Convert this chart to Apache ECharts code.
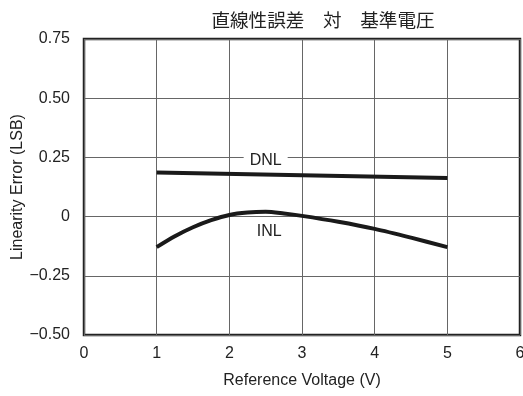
<!DOCTYPE html>
<html><head><meta charset="utf-8">
<script src="https://cdn.jsdelivr.net/npm/echarts@6/dist/echarts.min.js"></script>
<style>html,body{margin:0;padding:0;background:#fff}#c{width:523px;height:396px}</style>
</head><body><div id="c"></div>
<script>
const titleText = '直線性誤差　対　基準電圧';
const xName = 'Reference Voltage (V)';
const yName = 'Linearity Error (LSB)';
const dnlX = [1, 5];
const dnlY = [0.186, 0.163];
const inlX = [1, 1.25, 1.5, 1.75, 2, 2.25, 2.5, 2.75, 3, 3.5, 4, 4.5, 5];
const inlY = [-0.129, -0.083, -0.045, -0.015, 0.007, 0.017, 0.02, 0.013, 0.003, -0.022, -0.052, -0.089, -0.129];
const seriesLabels = ['DNL', 'INL'];

const font = 'Liberation Sans, Arial, sans-serif';
const chart = echarts.init(document.getElementById('c'));
const fmtY = v => {
  if (v === 0) return '0';
  const s = Math.abs(v).toFixed(2);
  return v < 0 ? '\u2212' + s : s;
};
const lbl = { show: true, position: 'inside', fontSize: 16, color: '#222', fontFamily: font };
chart.setOption({
  animation: false,
  title: { text: titleText, left: 318, textAlign: 'center', top: 6,
    textStyle: { fontSize: 18.6, fontWeight: 'normal', color: '#222', fontFamily: 'Noto Sans CJK JP' } },
  grid: { left: 84, right: 3, top: 39, bottom: 61, show: true, borderColor: '#222', borderWidth: 2.5,
    containLabel: false, outerBoundsMode: 'none' },
  xAxis: { type: 'value', min: 0, max: 6, interval: 1, name: xName, nameLocation: 'middle', nameGap: 38,
    nameTextStyle: { fontSize: 16, color: '#222', fontFamily: font },
    axisLine: { show: false }, axisTick: { show: false },
    axisLabel: { fontSize: 16, color: '#222', fontFamily: font, margin: 11 },
    splitLine: { show: true, lineStyle: { color: '#666', width: 1 } } },
  yAxis: { type: 'value', min: -0.5, max: 0.75, interval: 0.25, name: yName, nameLocation: 'middle', nameGap: 58,
    nameMoveOverlap: false,
    nameTextStyle: { fontSize: 16, color: '#222', fontFamily: font },
    axisLine: { show: false }, axisTick: { show: false },
    axisLabel: { fontSize: 16, color: '#222', fontFamily: font, margin: 14, formatter: fmtY },
    splitLine: { show: true, lineStyle: { color: '#666', width: 1 } } },
  series: [
    { type: 'line', name: seriesLabels[0], data: dnlX.map((x, i) => [x, dnlY[i]]), symbol: 'none',
      lineStyle: { color: '#1a1a1a', width: 4 }, z: 5,
      markPoint: { symbol: 'rect', symbolSize: [44, 16], silent: true, itemStyle: { color: '#fff' },
        label: Object.assign({ formatter: seriesLabels[0] }, lbl),
        data: [{ coord: [2.5, 0.238] }] } },
    { type: 'line', name: seriesLabels[1], data: inlX.map((x, i) => [x, inlY[i]]), symbol: 'none', smooth: 0.3,
      lineStyle: { color: '#1a1a1a', width: 4 }, z: 5,
      markPoint: { symbol: 'rect', symbolSize: [36, 16], silent: true, itemStyle: { color: 'rgba(255,255,255,0)' },
        label: Object.assign({ formatter: seriesLabels[1] }, lbl),
        data: [{ coord: [2.55, -0.063] }] } }
  ]
});
</script></body></html>
